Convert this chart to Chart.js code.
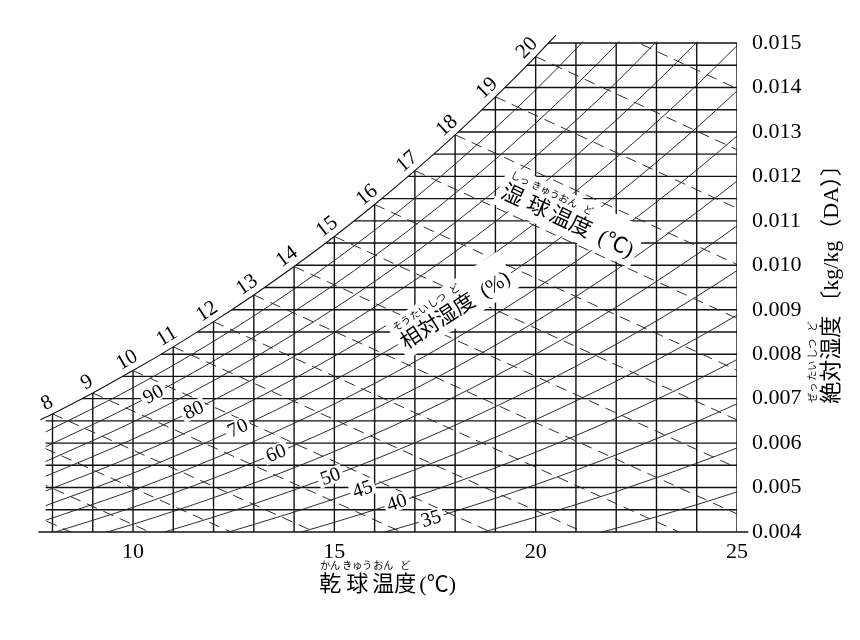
<!DOCTYPE html>
<html><head><meta charset="utf-8">
<script src="https://cdn.jsdelivr.net/npm/chart.js@4.4.1/dist/chart.umd.min.js"></script>
<style>html,body{margin:0;padding:0;background:#fff}canvas{display:block}</style>
</head><body>
<canvas id="c" width="860" height="640"></canvas>
<script>
// ---------------- data ----------------
const xTicks = [10, 15, 20, 25];
const yTicks = [0.004,0.005,0.006,0.007,0.008,0.009,0.010,0.011,0.012,0.013,0.014,0.015];
const gridTemps = [8,9,10,11,12,13,14,15,16,17,18,19,20,21,22,23,24,25];
const gridHums = [0.0045,0.005,0.0055,0.006,0.0065,0.007,0.0075,0.008,0.0085,0.009,0.0095,0.010,
                  0.0105,0.011,0.0115,0.012,0.0125,0.013,0.0135,0.014,0.0145,0.015];
// saturation curve (100 %)
const satTemps = [7.7, 8, 9, 10, 11, 12, 13, 14, 15, 16, 17, 18, 19, 20, 20.3, 20.5];
const satHum   = [0.006524,0.006657,0.007129,0.007631,0.008165,0.008732,0.009333,0.009972,
                  0.010649,0.011367,0.012129,0.012936,0.013791,0.014696,0.014984,0.015171];
// relative humidity curves, values at rhTemps
const rhTemps = [7.8, 10, 12, 14, 16, 18, 20, 22, 24, 25];
const rh95 = [0.006237,0.007245,0.008289,0.009466,0.010789,0.012277,0.013945,0.015815,null,null];
const rh90 = [0.005905,0.006860,0.007847,0.008960,0.010212,0.011618,0.013196,0.014963,0.016941,null];
const rh85 = [0.005574,0.006475,0.007406,0.008456,0.009636,0.010962,0.012448,0.014113,0.015975,null];
const rh80 = [0.005243,0.006090,0.006966,0.007952,0.009061,0.010306,0.011702,0.013265,0.015013,0.015962];
const rh75 = [0.004913,0.005706,0.006526,0.007449,0.008487,0.009652,0.010957,0.012419,0.014053,0.014941];
const rh70 = [0.004583,0.005322,0.006086,0.006947,0.007914,0.008999,0.010215,0.011576,0.013097,0.013922];
const rh65 = [0.004254,0.004939,0.005648,0.006446,0.007342,0.008348,0.009474,0.010735,0.012143,0.012907];
const rh60 = [0.003924,0.004556,0.005210,0.005945,0.006771,0.007698,0.008735,0.009896,0.011192,0.011895];
const rh55 = [0.003595,0.004174,0.004772,0.005445,0.006201,0.007049,0.007998,0.009059,0.010244,0.010887];
const rh50 = [null,0.003792,0.004335,0.004946,0.005632,0.006402,0.007262,0.008225,0.009299,0.009881];
const rh45 = [null,null,0.003899,0.004448,0.005064,0.005755,0.006529,0.007393,0.008357,0.008879];
const rh40 = [null,null,0.003463,0.003951,0.004498,0.005111,0.005796,0.006563,0.007417,0.007880];
const rh35 = [null,null,null,0.003454,0.003932,0.004467,0.005066,0.005735,0.006480,0.006884];
const rh30 = [null,null,null,null,0.003367,0.003825,0.004337,0.004909,0.005546,0.005891];
const rh25 = [null,null,null,null,null,0.003184,0.003610,0.004085,0.004615,0.004902];
const rhLevels = [95,90,85,80,75,70,65,60,55,50,45,40,35,30,25];
const rhSeries = [rh95,rh90,rh85,rh80,rh75,rh70,rh65,rh60,rh55,rh50,rh45,rh40,rh35,rh30,rh25];
// wet-bulb lines: start on saturation (wbTemps, wbStartHum), end (wbEndTemp, wbEndHum)
const wbTemps    = [5,6,7,8,9,10,11,12,13,14,15,16,17,18,19,20,21];
const wbStartHum = [0.005403,0.005794,0.006213,0.006657,0.007129,0.007631,0.008165,0.008732,0.009333,
                    0.009972,0.010649,0.011367,0.012129,0.012936,0.013791,0.014696,0.015656];
const wbEndTemp  = [12,13,14,16,18,20,22,25,25,25,25,25,25,25,25,25,25];
const wbEndHum   = [0.002561,0.002947,0.003361,0.003395,0.003455,0.003544,0.003664,0.003411,0.004407,
                    0.005444,0.006521,0.007640,0.008806,0.010019,0.011283,0.012599,0.013973];
const wbLabels = [8,9,10,11,12,13,14,15,16,17,18,19,20];
const rhLabels = [90,80,70,60,50,45,40,35];

// ---------------- placement / style ----------------
const X_MIN = 7.65, Y_MAX = 0.0153, CLIP_LEFT = 7.83;
const rhLabelT = {90:10.5, 80:11.5, 70:12.6, 60:13.55, 50:14.9, 45:15.7, 40:16.55, 35:17.4};
const FONT = '"Liberation Serif", "Noto Sans CJK JP", serif';
const JFONT = '"Noto Sans CJK JP", sans-serif';
const INK = '#111';

function seg(points, extra) {
  return Object.assign({data: points, showLine: true, pointRadius: 0, borderColor: INK,
    borderWidth: 1, fill: false, tension: 0}, extra);
}
const datasets = [];
datasets.push(seg(satTemps.map((t,i)=>({x:t,y:satHum[i]})), {cubicInterpolationMode:'monotone', borderWidth:1.1, order:0}));
datasets.push(seg([{x:X_MIN,y:yTicks[0]},{x:25.28,y:yTicks[0]}], {borderWidth:1.4, order:0, clip:false}));
rhSeries.forEach((arr,k)=>{
  const pts = rhTemps.map((t,i)=>({x:t,y:arr[i]})).filter(p=>p.y!==null);
  datasets.push(seg(pts, {cubicInterpolationMode:'monotone', borderColor:'#222', borderWidth:0.95, order:1, clipToSat:true, label:'RH'+rhLevels[k]}));
});
wbTemps.forEach((tw,i)=>{
  datasets.push(seg([{x:tw,y:wbStartHum[i]},{x:wbEndTemp[i],y:wbEndHum[i]}], {borderColor:'#222', borderWidth:0.95, borderDash:[11,7], order:1, clipToSat:true}));
});
gridTemps.forEach(t=>{
  datasets.push(seg([{x:t,y:yTicks[0]},{x:t,y:gridHums[gridHums.length-1]}], {borderWidth:1.4, order:2, clipToSat:true}));
});
gridHums.forEach(h=>{
  datasets.push(seg([{x:X_MIN,y:h},{x:gridTemps[gridTemps.length-1],y:h}], {borderWidth:1.4, order:2, clipToSat:true}));
});

function satClip(chart){
  const ctx=chart.ctx, X=chart.scales.x, Y=chart.scales.y;
  const xL = X.getPixelForValue(CLIP_LEFT), xR = X.getPixelForValue(gridTemps[gridTemps.length-1]) + 1.5;
  const yB = Y.getPixelForValue(yTicks[0]) + 1.5, yT = Y.getPixelForValue(gridHums[gridHums.length-1]) - 1.5;
  const pts = satTemps.map((t,i)=>[X.getPixelForValue(t), Y.getPixelForValue(satHum[i])]);
  ctx.beginPath();
  ctx.moveTo(xL, yB);
  let prev = null;
  for (const p of pts) {
    if (p[0] < xL) { prev = p; continue; }
    if (prev && prev[0] < xL) { const f=(xL-prev[0])/(p[0]-prev[0]); ctx.lineTo(xL, prev[1]+f*(p[1]-prev[1])); }
    else if (!prev) ctx.lineTo(xL, p[1]);
    if (p[1] < yT && prev) { const f=(prev[1]-yT)/(prev[1]-p[1]); ctx.lineTo(prev[0]+f*(p[0]-prev[0]), yT); break; }
    ctx.lineTo(p[0], p[1]);
    prev = p;
  }
  ctx.lineTo(xR, yT); ctx.lineTo(xR, yB); ctx.closePath(); ctx.clip();
}
function interpAt(xs, ys, t){
  for (let i=0;i<xs.length-1;i++){
    if (ys[i]==null||ys[i+1]==null) continue;
    if (t>=xs[i] && t<=xs[i+1]) { const f=(t-xs[i])/(xs[i+1]-xs[i]); return ys[i]+f*(ys[i+1]-ys[i]); }
  }
  return null;
}
function curveLabel(chart, xs, ys, t, text, size, normalOff, bg){
  const X=chart.scales.x, Y=chart.scales.y, ctx=chart.ctx;
  const p0=[X.getPixelForValue(t-0.3), Y.getPixelForValue(interpAt(xs,ys,t-0.3))];
  const p1=[X.getPixelForValue(t+0.3), Y.getPixelForValue(interpAt(xs,ys,t+0.3))];
  const a=Math.atan2(p1[1]-p0[1], p1[0]-p0[0]);
  let cx=X.getPixelForValue(t), cy=Y.getPixelForValue(interpAt(xs,ys,t));
  cx += Math.sin(a)*normalOff; cy += -Math.cos(a)*normalOff;
  ctx.save(); ctx.translate(cx,cy); ctx.rotate(a);
  ctx.font = size+'px '+FONT; ctx.textAlign='center'; ctx.textBaseline='middle';
  const w=ctx.measureText(text).width;
  if (bg){ ctx.fillStyle='#fff'; ctx.fillRect(-w/2-3,-size*0.42,w+6,size*0.84); }
  ctx.fillStyle='#000'; ctx.fillText(text,0,1);
  ctx.restore();
}
function drawRubyText(ctx, cx, cy, angle, segs, o){
  ctx.save(); ctx.translate(cx,cy); ctx.rotate(angle);
  const bf=o.size+'px '+FONT, rf=o.rsize+'px '+JFONT;
  ctx.font=bf;
  const widths=segs.map(s=>ctx.measureText(s.t).width);
  let total=0; segs.forEach((s,i)=>{ total+=widths[i]+(i<segs.length-1?(s.g||0):0); });
  const rubyY=-(o.size*0.5+o.rsize*0.8+1);
  if (o.bg){ ctx.fillStyle='#fff'; const top=rubyY-o.rsize*0.6-2; ctx.fillRect(-total/2-o.pad, top, total+2*o.pad, o.size*0.5+o.pad-top); }
  ctx.fillStyle='#000'; ctx.textBaseline='middle';
  let x=-total/2;
  segs.forEach((s,i)=>{
    ctx.font=bf; ctx.textAlign='left'; ctx.fillText(s.t,x,0);
    if (s.r){ ctx.font=rf; ctx.textAlign='center'; ctx.fillText(s.r,x+widths[i]/2,rubyY); }
    x+=widths[i]+(s.g||0);
  });
  ctx.restore();
}
const deg = Math.PI/180;
const psyPlugin = {
  id:'psy',
  beforeDatasetDraw(chart,args){ if (chart.data.datasets[args.index].clipToSat){ chart.ctx.save(); satClip(chart); } },
  afterDatasetDraw(chart,args){ if (chart.data.datasets[args.index].clipToSat) chart.ctx.restore(); },
  afterDatasetsDraw(chart){
    const ctx=chart.ctx, X=chart.scales.x, Y=chart.scales.y, A=chart.chartArea;
    // wet-bulb labels along saturation curve
    wbLabels.forEach(tw=>curveLabel(chart, satTemps, satHum, tw, String(tw), 21, 13, false));
    // relative humidity labels
    rhLabels.forEach(lv=>{ const k=rhLevels.indexOf(lv); curveLabel(chart, rhTemps, rhSeries[k], rhLabelT[lv], String(lv), 20, 0, true); });
    // in-chart titles
    drawRubyText(ctx, X.getPixelForValue(20.78), Y.getPixelForValue(0.010974), 25*deg,
      [{t:'湿',r:'しっ',g:6},{t:'球',r:'きゅう',g:3},{t:'温',r:'おん'},{t:'度',r:'ど',g:10},{t:'(℃)'}],
      {size:22,rsize:10,bg:true,pad:4});
    drawRubyText(ctx, X.getPixelForValue(18.02), Y.getPixelForValue(0.008972), -33*deg,
      [{t:'相',r:'そう'},{t:'対',r:'たい'},{t:'湿',r:'しつ'},{t:'度',r:'ど',g:10},{t:'(%)'}],
      {size:21,rsize:10,bg:true,pad:4});
    // axis titles
    drawRubyText(ctx, (A.left+A.right)/2, A.bottom+53, 0,
      [{t:'乾',r:'かん',g:5},{t:'球',r:'きゅう',g:4},{t:'温',r:'おん'},{t:'度',r:'ど',g:3},{t:'(℃)'}],
      {size:22,rsize:10,bg:false,pad:0});
    drawRubyText(ctx, A.right+95, (A.top+A.bottom)/2 - 2, -90*deg,
      [{t:'絶',r:'ぜっ'},{t:'対',r:'たい'},{t:'湿',r:'しつ'},{t:'度',r:'ど',g:3},{t:'〔kg/kg（DA）〕'}],
      {size:22,rsize:10,bg:false,pad:0});
  }
};

new Chart(document.getElementById('c'), {
  type:'scatter',
  data:{datasets},
  plugins:[psyPlugin],
  options:{
    responsive:false, animation:false, devicePixelRatio:1,
    layout:{padding:{left:38.4, top:29.7, right:23, bottom:68}},
    plugins:{legend:{display:false}, tooltip:{enabled:false}},
    elements:{point:{radius:0}},
    scales:{
      x:{type:'linear', min:X_MIN, max:25, grid:{display:false, drawTicks:false}, border:{display:false},
         afterBuildTicks:s=>{ s.ticks=xTicks.map(v=>({value:v})); },
         afterFit:s=>{ s.height=40; },
         ticks:{padding:7, color:'#000', font:{family:FONT, size:22}, maxRotation:0, autoSkip:false}},
      y:{type:'linear', position:'right', min:yTicks[0], max:Y_MAX, grid:{display:false, drawTicks:false}, border:{display:false},
         afterBuildTicks:s=>{ s.ticks=yTicks.map(v=>({value:v})); },
         afterFit:s=>{ s.width=100; },
         ticks:{padding:15, color:'#000', font:{family:FONT, size:22}, autoSkip:false, callback:v=>Number(v).toFixed(3)}}
    }
  }
});
</script>
</body></html>
